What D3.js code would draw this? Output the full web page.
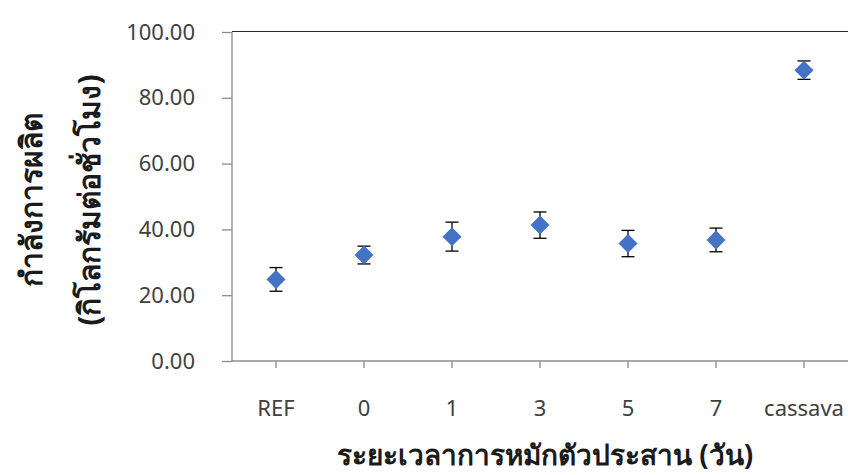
<!DOCTYPE html>
<html>
<head>
<meta charset="utf-8">
<script src="https://cdn.jsdelivr.net/npm/d3@7"></script>
<style>
  body { margin: 0; background: #fff; }
  text { font-family: "Noto Sans", "DejaVu Sans", sans-serif; }
</style>
</head>
<body>
<svg id="chart" width="848" height="475"></svg>
<script>
"use strict"

// data
var categories = ["REF", "0", "1", "3", "5", "7", "cassava"];
var means = [24.8, 32.2, 37.8, 41.3, 35.7, 36.8, 88.4];
var errors = [3.6, 2.7, 4.4, 4.0, 4.0, 3.6, 2.8];
var yTicks = [0, 20, 40, 60, 80, 100];

var margin = {top: 32, right: 0, bottom: 114, left: 232};
var W = 848, H = 475;

var svg = d3.select("#chart");

var x = d3.scaleBand()
    .domain(categories)
    .range([margin.left, W - margin.right]);

var y = d3.scaleLinear()
    .domain([0, 100])
    .range([H - margin.bottom, margin.top]);

// top border
svg.append("line")
    .attr("x1", margin.left).attr("x2", W)
    .attr("y1", y(100) - 0.5).attr("y2", y(100) - 0.5)
    .attr("stroke", "#262626").attr("stroke-width", 1.2);

// y axis
var yAxis = svg.append("g")
    .attr("transform", "translate(" + margin.left + ",0)")
    .call(d3.axisLeft(y).tickValues(yTicks).tickSize(10).tickPadding(27)
        .tickFormat(d3.format(".2f")));
yAxis.selectAll("path, line").attr("stroke", "#8c8c8c").attr("stroke-width", 1.3);
yAxis.selectAll("text").attr("font-size", 22).attr("fill", "#404040");
yAxis.select(".domain").attr("d", "M0," + y(0) + "V" + y(100));

// x axis
var xAxis = svg.append("g")
    .attr("transform", "translate(0," + y(0) + ")")
    .call(d3.axisBottom(x).tickSize(7).tickPadding(32));
xAxis.selectAll("path, line").attr("stroke", "#8c8c8c").attr("stroke-width", 1.3);
xAxis.selectAll("text").attr("font-size", 22).attr("fill", "#404040");
xAxis.select(".domain").attr("d", "M" + margin.left + ",0H" + W);

var cx = function(d, i) { return x(categories[i]) + x.bandwidth() / 2; };

// error bars
var eb = svg.append("g").selectAll("g")
    .data(means)
    .enter().append("g")
    .attr("stroke", "#000").attr("stroke-width", 1.3);

eb.append("line")
    .attr("x1", cx).attr("x2", cx)
    .attr("y1", function(d, i) { return y(d + errors[i]); })
    .attr("y2", function(d, i) { return y(d - errors[i]); });

eb.append("line")
    .attr("x1", function(d, i) { return cx(d, i) - 6.5; })
    .attr("x2", function(d, i) { return cx(d, i) + 6.5; })
    .attr("y1", function(d, i) { return y(d + errors[i]); })
    .attr("y2", function(d, i) { return y(d + errors[i]); });

eb.append("line")
    .attr("x1", function(d, i) { return cx(d, i) - 6.5; })
    .attr("x2", function(d, i) { return cx(d, i) + 6.5; })
    .attr("y1", function(d, i) { return y(d - errors[i]); })
    .attr("y2", function(d, i) { return y(d - errors[i]); });

// diamond markers
svg.append("g").selectAll("path")
    .data(means)
    .enter().append("path")
    .attr("d", "M0,-9.5L9.5,0L0,9.5L-9.5,0Z")
    .attr("transform", function(d, i) { return "translate(" + cx(d, i) + "," + y(d) + ")"; })
    .attr("fill", "#4472c4");

// axis titles
svg.append("text")
    .attr("x", 545).attr("y", 465)
    .attr("text-anchor", "middle")
    .attr("font-size", 28).attr("font-weight", "bold").attr("fill", "#1a1a1a")
    .text("ระยะเวลาการหมักตัวประสาน (วัน)");

var yt = svg.append("text")
    .attr("transform", "translate(0,200) rotate(-90)")
    .attr("text-anchor", "middle")
    .attr("font-size", 30).attr("font-weight", "bold").attr("fill", "#1a1a1a");
yt.append("tspan").attr("x", 0).attr("y", 42).text("กำลังการผลิต");
yt.append("tspan").attr("x", 0).attr("y", 100).text("(กิโลกรัมต่อชั่วโมง)");
</script>
</body>
</html>
